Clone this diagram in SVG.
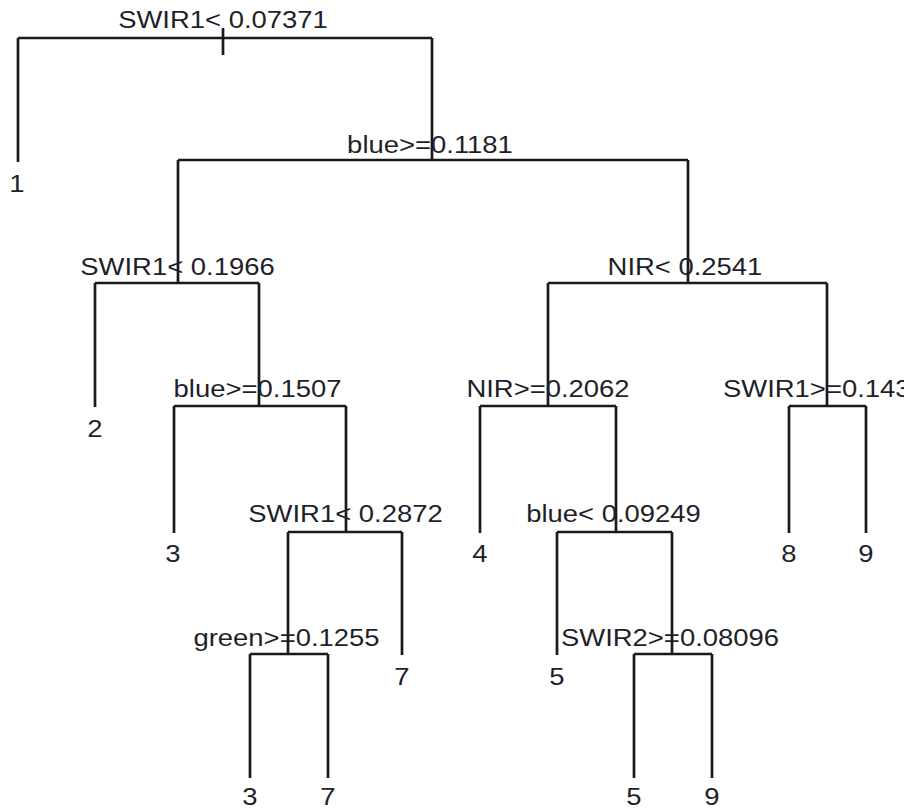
<svg xmlns="http://www.w3.org/2000/svg" width="904" height="810" viewBox="0 0 904 810">
<style>
  .ln { fill: none; stroke: #1a1a1a; stroke-width: 2.7; stroke-linecap: butt; }
  text { font-family: "Liberation Sans", Arial, sans-serif; font-size: 24.5px; fill: #1f1f2a; text-anchor: middle; }
  text.st { text-anchor: start; }
</style>
<rect width="904" height="810" fill="#ffffff"/>
<g id="connectors" class="ln">
  <path d="M18,38 H432 M223,28 V55 M18,38 V162 M432,38 V160"/>
  <path d="M178,160 H688 M178,160 V283 M688,160 V283"/>
  <path d="M95,283 H259 M95,283 V407 M259,283 V406"/>
  <path d="M174,406 H346 M174,406 V533 M346,406 V532"/>
  <path d="M288,532 H402 M288,532 V654 M402,532 V655"/>
  <path d="M250,654 H328 M250,654 V778 M328,654 V778"/>
  <path d="M548,283 H827 M548,283 V406 M827,283 V406"/>
  <path d="M480,406 H616 M480,406 V533 M616,406 V532"/>
  <path d="M557,532 H672 M557,532 V655 M672,532 V654"/>
  <path d="M634,654 H712 M634,654 V778 M712,654 V778"/>
  <path d="M789,406 H866 M789,406 V533 M866,406 V533"/>
</g>
<g id="node-root"><text transform="translate(223,28) scale(1.12,1)">SWIR1&lt; 0.07371</text></g>
<g id="node-blue-01181"><text transform="translate(430,153) scale(1.12,1)">blue&gt;=0.1181</text></g>
<g id="node-swir1-01966"><text transform="translate(177.5,275) scale(1.12,1)">SWIR1&lt; 0.1966</text></g>
<g id="node-blue-01507"><text transform="translate(257.5,397) scale(1.12,1)">blue&gt;=0.1507</text></g>
<g id="node-swir1-02872"><text transform="translate(345.5,522) scale(1.12,1)">SWIR1&lt; 0.2872</text></g>
<g id="node-green-01255"><text transform="translate(286.5,646) scale(1.12,1)">green&gt;=0.1255</text></g>
<g id="node-nir-02541"><text transform="translate(685,275) scale(1.12,1)">NIR&lt; 0.2541</text></g>
<g id="node-nir-02062"><text transform="translate(548,397) scale(1.12,1)">NIR&gt;=0.2062</text></g>
<g id="node-blue-009249"><text transform="translate(613.5,522) scale(1.12,1)">blue&lt; 0.09249</text></g>
<g id="node-swir2-008096"><text transform="translate(670,646) scale(1.12,1)">SWIR2&gt;=0.08096</text></g>
<g id="node-swir1-0143"><text class="st" transform="translate(723,397) scale(1.12,1)">SWIR1&gt;=0.143</text></g>
<g id="leaf-1"><text transform="translate(17,192) scale(1.12,1)">1</text></g>
<g id="leaf-2"><text transform="translate(95,437) scale(1.12,1)">2</text></g>
<g id="leaf-3a"><text transform="translate(173,562) scale(1.12,1)">3</text></g>
<g id="leaf-7a"><text transform="translate(402,685) scale(1.12,1)">7</text></g>
<g id="leaf-3b"><text transform="translate(250,805) scale(1.12,1)">3</text></g>
<g id="leaf-7b"><text transform="translate(328,805) scale(1.12,1)">7</text></g>
<g id="leaf-4"><text transform="translate(480,562) scale(1.12,1)">4</text></g>
<g id="leaf-5a"><text transform="translate(557,685) scale(1.12,1)">5</text></g>
<g id="leaf-5b"><text transform="translate(634,805) scale(1.12,1)">5</text></g>
<g id="leaf-9a"><text transform="translate(712,805) scale(1.12,1)">9</text></g>
<g id="leaf-8"><text transform="translate(789,562) scale(1.12,1)">8</text></g>
<g id="leaf-9b"><text transform="translate(866,562) scale(1.12,1)">9</text></g>
</svg>
